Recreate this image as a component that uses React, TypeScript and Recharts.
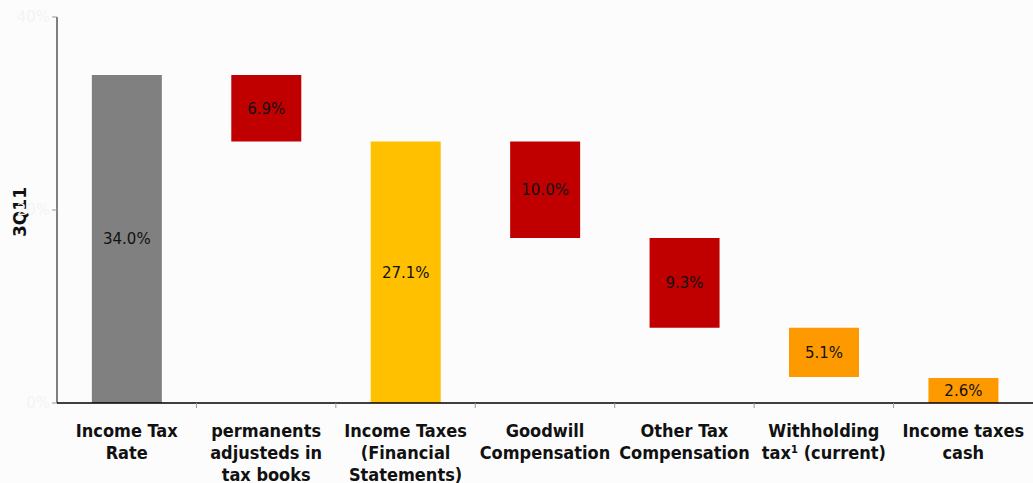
import { BarChart, Bar, XAxis, YAxis, LabelList, Cell } from "recharts";

const categories = [
  ["Income Tax", "Rate"],
  ["permanents", "adjusteds in", "tax books"],
  ["Income Taxes", "(Financial", "Statements)"],
  ["Goodwill", "Compensation"],
  ["Other Tax", "Compensation"],
  ["Withholding", "tax¹ (current)"],
  ["Income taxes", "cash"],
];
const values = [34.0, 6.9, 27.1, 10.0, 9.3, 5.1, 2.6];
const bases = [0, 27.1, 0, 17.1, 7.8, 2.7, 0];
const colors = ["#808080", "#C00000", "#FFC000", "#C00000", "#C00000", "#FF9900", "#FF9900"];
const yTicks = [0, 20, 40];

const data = values.map((v, i) => ({
  name: i,
  base: bases[i],
  value: v,
}));

const W = 1033;
const H = 483;
const LEFT = 57;
const TOP = 17;
const XAXIS_H = 80;
const band = (W - LEFT) / categories.length;

function CategoryTick(props: any) {
  const { x, y, payload } = props;
  const lines = categories[payload.value];
  const last = payload.value === categories.length - 1;
  return (
    <g>
      {!last && (
        <line x1={x + band / 2} x2={x + band / 2} y1={y - 8} y2={y - 3} stroke="#999" />
      )}
      <text
        x={x}
        y={y + 26}
        textAnchor="middle"
        fontFamily="DejaVu Sans Condensed, DejaVu Sans"
        fontWeight="bold"
        fontSize={18}
        fill="#111"
      >
        {lines.map((l: string, i: number) => (
          <tspan key={i} x={x} dy={i === 0 ? 0 : 22}>
            {l}
          </tspan>
        ))}
      </text>
    </g>
  );
}

function YLabel() {
  const cy = 212;
  return (
    <text
      x={20}
      y={cy}
      transform={`rotate(-90, 20, ${cy})`}
      textAnchor="middle"
      dominantBaseline="central"
      fontFamily="DejaVu Sans"
      fontWeight="bold"
      fontSize={17}
      fill="#111"
    >
      3Q11
    </text>
  );
}

export default function App() {
  return (
    <div
      style={{
        position: "absolute",
        left: 0,
        top: 0,
        width: W,
        height: H,
        background: "#fcfcfc",
      }}
    >
      <BarChart
        width={W}
        height={H}
        data={data}
        margin={{ top: TOP, right: 0, bottom: 0, left: 0 }}
        barCategoryGap="25%"
      >
        <YAxis
          type="number"
          domain={[0, 40]}
          ticks={yTicks}
          width={LEFT}
          axisLine={{ stroke: "#808080", strokeWidth: 2 }}
          tickLine={{ stroke: "#999" }}
          tickSize={5}
          tick={{ fill: "#f4f4f4", fontSize: 15, fontFamily: "DejaVu Sans" }}
          tickFormatter={(v: number) => `${v}%`}
          label={<YLabel />}
        />
        <XAxis
          dataKey="name"
          interval={0}
          height={XAXIS_H}
          axisLine={{ stroke: "#000", strokeWidth: 1.5 }}
          tickLine={false}
          tick={<CategoryTick />}
        />
        <Bar dataKey="base" stackId="a" fill="transparent" isAnimationActive={false} />
        <Bar dataKey="value" stackId="a" isAnimationActive={false}>
          {values.map((_, i) => (
            <Cell key={i} fill={colors[i]} />
          ))}
          <LabelList
            dataKey="value"
            position="center"
            formatter={(v: any) => `${Number(v).toFixed(1)}%`}
            style={{ fontFamily: "DejaVu Sans", fontSize: 15, fill: "#111" }}
          />
        </Bar>
      </BarChart>
    </div>
  );
}
